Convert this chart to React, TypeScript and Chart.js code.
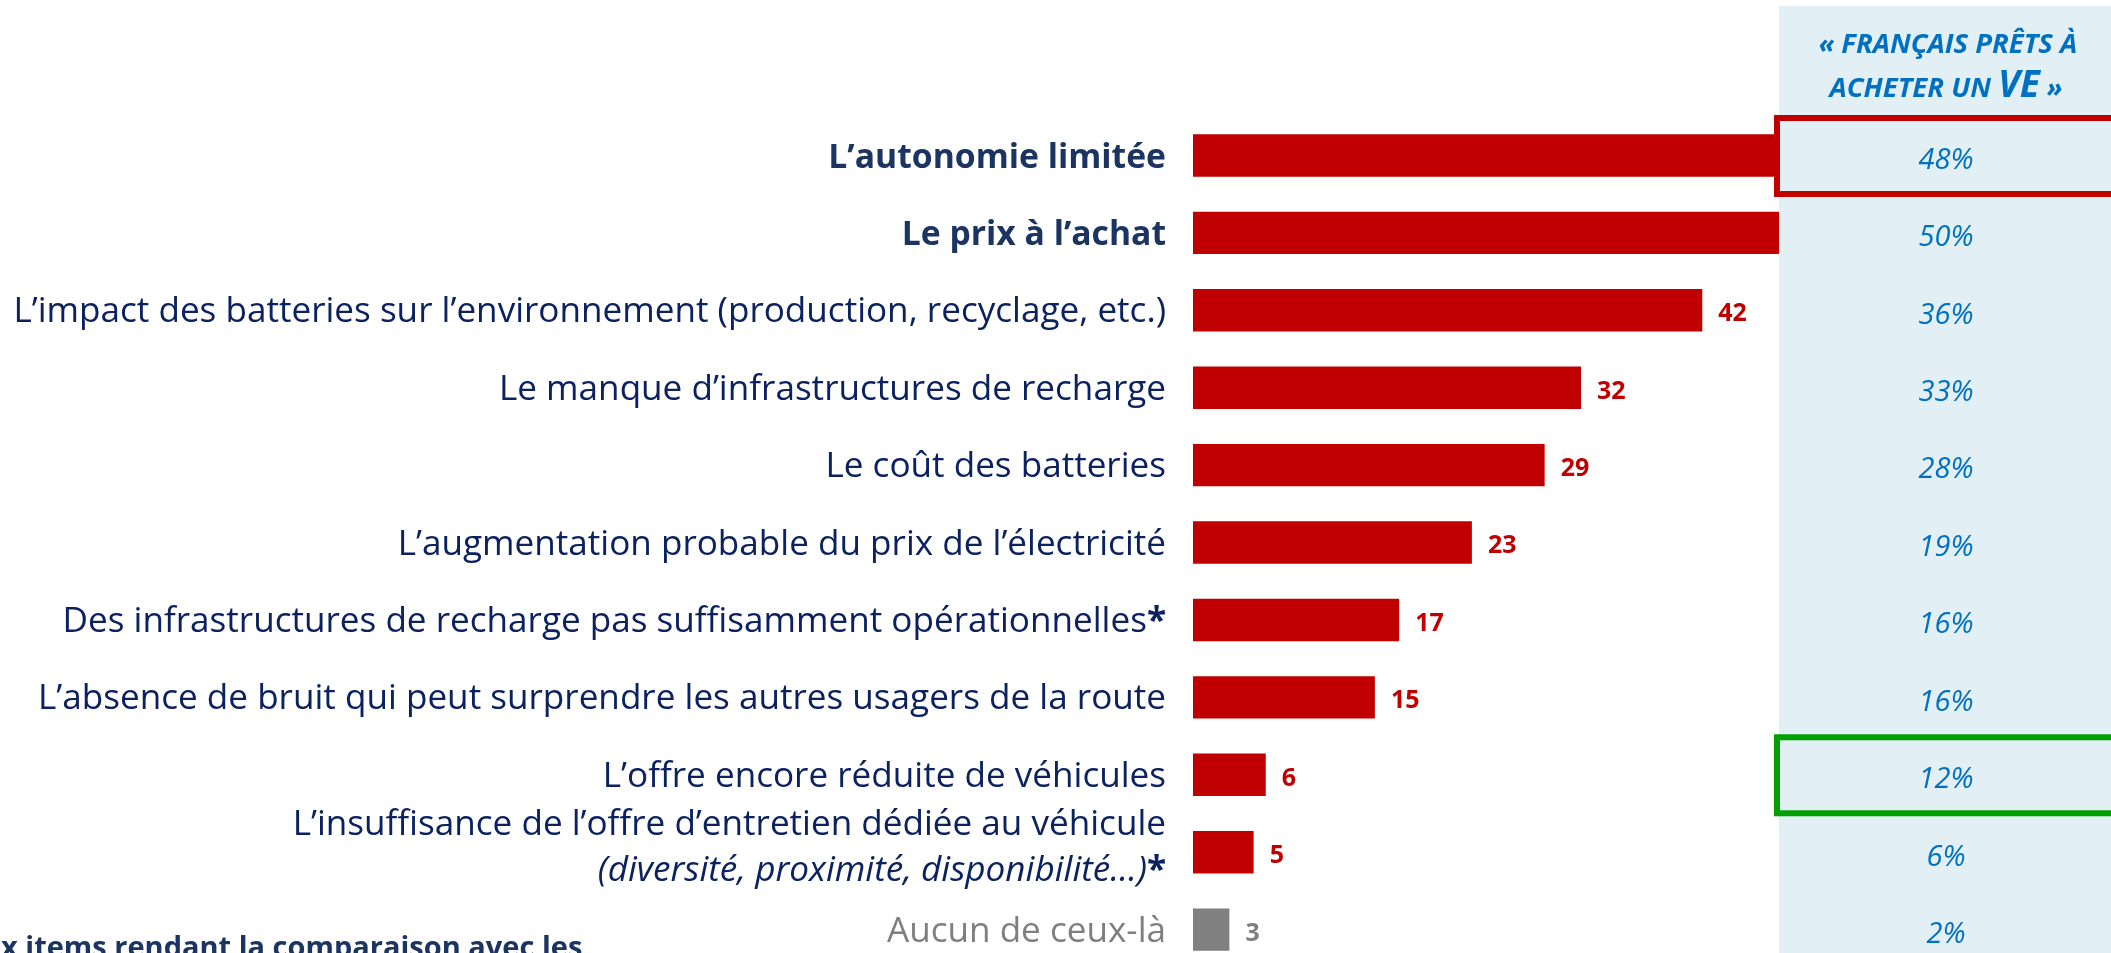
import React, { useEffect, useRef } from "react";
import { Chart, registerables } from "chart.js";

Chart.register(...registerables);

// ---- data ----
const categories = [
  "L’autonomie limitée",
  "Le prix à l’achat",
  "L’impact des batteries sur l’environnement (production, recyclage, etc.)",
  "Le manque d’infrastructures de recharge",
  "Le coût des batteries",
  "L’augmentation probable du prix de l’électricité",
  "Des infrastructures de recharge pas suffisamment opérationnelles",
  "L’absence de bruit qui peut surprendre les autres usagers de la route",
  "L’offre encore réduite de véhicules",
  "L’insuffisance de l’offre d’entretien dédiée au véhicule",
  "Aucun de ceux-là",
];
const subLabels = ["", "", "", "", "", "", "", "", "", "(diversité, proximité, disponibilité…)", ""];
const starred = [false, false, false, false, false, false, true, false, false, true, false];
const boldRows = [true, true, false, false, false, false, false, false, false, false, false];
const values = [55, 53, 42, 32, 29, 23, 17, 15, 6, 5, 3];
const readyToBuy = [48, 50, 36, 33, 28, 19, 16, 16, 12, 6, 2];
const columnTitleLine1 = "« FRANÇAIS PRÊTS À";
const columnTitleLine2 = ["ACHETER UN ", "VE", " »"];
const redBoxRow = 0;
const greenBoxRow = 8;
const footnote = "x items rendant la comparaison avec les";

const W = 2111;
const H = 970;
const FONT = '"Open Sans", "Noto Sans", sans-serif';
const NAVY = "#0b2160";
const NAVY_BOLD = "#1c3461";
const RED = "#c00000";
const GREY = "#7f7f7f";
const BLUE = "#0070c0";
const PANEL_X = 1779;

const overlayPlugin = {
  id: "overlay",
  afterDatasetsDraw(chart: any) {
    const ctx: CanvasRenderingContext2D = chart.ctx;
    const meta = chart.getDatasetMeta(0);
    const last = values.length - 1;
    ctx.save();

    // value labels
    ctx.textAlign = "left";
    ctx.textBaseline = "alphabetic";
    meta.data.forEach((bar: any, i: number) => {
      const p = bar.getProps(["x", "y"], true);
      ctx.font = `bold 25px ${FONT}`;
      ctx.fillStyle = i === last ? GREY : RED;
      ctx.fillText(String(values[i]), p.x + 16, p.y + 2 + 25 * 0.357);
    });

    // category labels (font size fitted so the longest label spans the original width)
    ctx.font = `30px ${FONT}`;
    const longest = ctx.measureText(categories[2]).width;
    const size = (30 * 1153) / longest;
    const right = 1166;
    const yScale = chart.scales.y;
    categories.forEach((label, i) => {
      const cy = yScale.getPixelForValue(i);
      const weight = boldRows[i] ? "bold " : "";
      const fs = boldRows[i] ? size * 0.96 : size;
      const color = i === last ? GREY : boldRows[i] ? NAVY_BOLD : NAVY;
      ctx.fillStyle = color;
      ctx.textAlign = "right";
      const drawLine = (text: string, base: number, italic: boolean, star: boolean) => {
        let r = right;
        if (star) {
          ctx.font = `bold ${fs}px ${FONT}`;
          ctx.fillText("*", r, base);
          r -= ctx.measureText("*").width;
        }
        ctx.font = `${italic ? "italic " : ""}${weight}${fs}px ${FONT}`;
        ctx.fillText(text, r, base);
      };
      if (subLabels[i]) {
        drawLine(label, cy - 17, false, false);
        drawLine(subLabels[i], cy + 29, true, starred[i]);
      } else {
        drawLine(label, cy + 12, false, starred[i]);
      }
    });

    // right panel
    ctx.fillStyle = "#e2eff5";
    ctx.fillRect(PANEL_X, 6, W - PANEL_X + 10, H);

    const cx = (PANEL_X + W) / 2 + 1;
    // header
    ctx.fillStyle = BLUE;
    ctx.textAlign = "left";
    ctx.font = `italic bold 27.5px ${FONT}`;
    const w1 = ctx.measureText(columnTitleLine1).width;
    ctx.fillText(columnTitleLine1, cx - w1 / 2 + 2, 53);
    const sizes = [27.5, 37, 27.5];
    let tw = 0;
    columnTitleLine2.forEach((t, k) => {
      ctx.font = `italic bold ${sizes[k]}px ${FONT}`;
      tw += ctx.measureText(t).width;
    });
    let x = cx - tw / 2;
    columnTitleLine2.forEach((t, k) => {
      ctx.font = `italic bold ${sizes[k]}px ${FONT}`;
      ctx.fillText(t, x, 97);
      x += ctx.measureText(t).width;
    });

    // percentages
    ctx.textAlign = "center";
    ctx.font = `italic 29px ${FONT}`;
    readyToBuy.forEach((v, i) => {
      const cy = yScale.getPixelForValue(i);
      ctx.fillText(`${v}%`, cx, cy + 3 + 29 * 0.357);
    });

    // highlight boxes
    ctx.lineWidth = 6;
    const box = (row: number, color: string) => {
      const cy = yScale.getPixelForValue(row);
      ctx.strokeStyle = color;
      ctx.strokeRect(1777, cy - 37.5, W - 1777 + 20, 76);
    };
    box(redBoxRow, RED);
    box(greenBoxRow, "#00a000");

    // footnote (cut at the bottom edge of the picture)
    ctx.textAlign = "left";
    ctx.fillStyle = NAVY_BOLD;
    ctx.font = `bold 29px ${FONT}`;
    ctx.fillText(footnote, 1, 957);

    ctx.restore();
  },
};

export default function App() {
  const ref = useRef<HTMLCanvasElement>(null);
  useEffect(() => {
    document.body.style.margin = "0";
    document.body.style.overflow = "hidden";
    const chart = new Chart(ref.current as HTMLCanvasElement, {
      type: "bar",
      data: {
        labels: categories,
        datasets: [
          {
            data: values,
            backgroundColor: values.map((_, i) => (i === values.length - 1 ? "#808080" : RED)),
            borderWidth: 0,
            categoryPercentage: 1,
            barPercentage: 0.548,
          },
        ],
      },
      options: {
        responsive: false,
        animation: false,
        devicePixelRatio: 1,
        indexAxis: "y",
        layout: { padding: { left: 1193, right: 8.6, top: 116.8, bottom: 1.7 } },
        plugins: { legend: { display: false }, tooltip: { enabled: false } },
        scales: {
          x: { display: false, min: 0, max: 75 },
          y: { display: false, offset: true },
        },
      },
      plugins: [overlayPlugin],
    } as any);
    return () => chart.destroy();
  }, []);
  return (
    <div style={{ position: "fixed", left: 0, top: 0, width: W, height: H, background: "#fff" }}>
      <canvas ref={ref} width={W} height={H} style={{ display: "block" }} />
    </div>
  );
}
